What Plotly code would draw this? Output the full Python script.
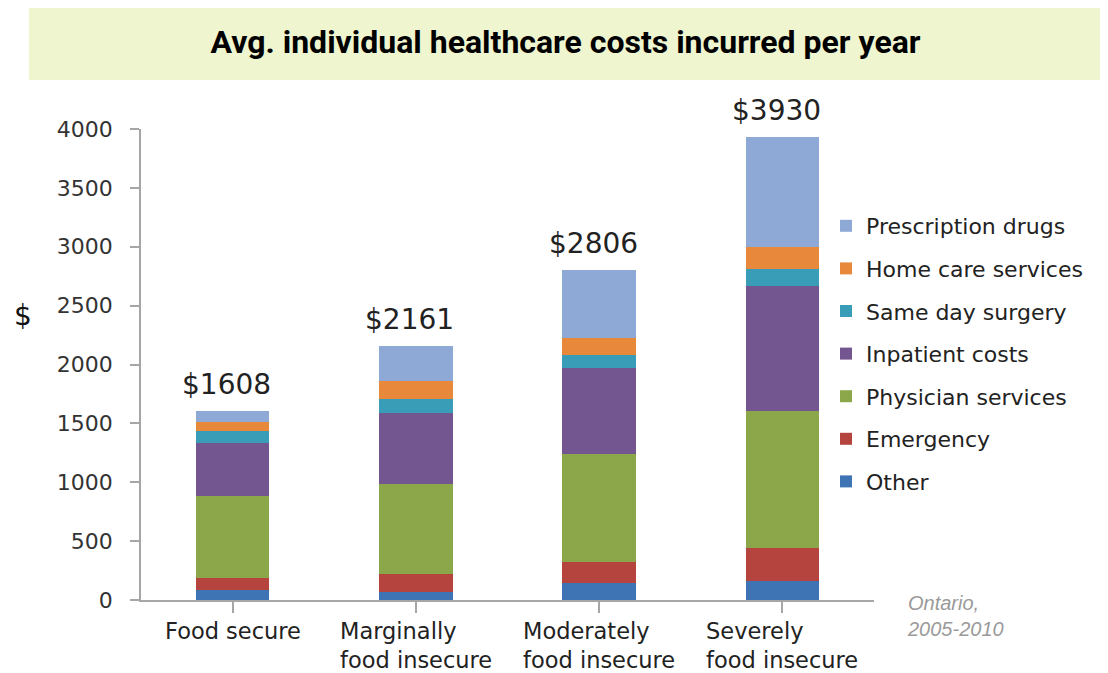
import plotly.graph_objects as go

categories = ["Food secure", "Marginally<br>food insecure", "Moderately<br>food insecure", "Severely<br>food insecure"]
totals = [1608, 2161, 2806, 3930]

# stacked components, bottom to top
other = [85, 68, 142, 161]
emergency = [99, 150, 184, 283]
physician = [696, 764, 914, 1161]
inpatient = [456, 603, 728, 1064]
same_day = [102, 122, 113, 142]
home_care = [71, 153, 141, 184]
prescription = [99, 301, 584, 935]

series = [
    ("Other", other, "#3E74B3"),
    ("Emergency", emergency, "#B5443F"),
    ("Physician services", physician, "#8CA74A"),
    ("Inpatient costs", inpatient, "#73568F"),
    ("Same day surgery", same_day, "#3A9DB8"),
    ("Home care services", home_care, "#E8883A"),
    ("Prescription drugs", prescription, "#8FA9D6"),
]

# page body has an 8px margin; size the figure so it fits the window
OFF = 8
W, H = 1108 - OFF, 673 - OFF
# plot area box in reference-window pixels
RL, RR, RT, RB = 141, 874, 129, 600
L, R, T, B = RL - OFF, RR - OFF, RT - OFF, RB - OFF


def px(xp):
    return (xp - RL) / (RR - RL)


def py(yp):
    return (RB - yp) / (RB - RT)


FONT = "DejaVu Sans"
xidx = list(range(len(categories)))

fig = go.Figure()
n = len(series)
for k, (name, vals, color) in enumerate(series):
    fig.add_trace(go.Bar(
        x=xidx, y=vals, name=name, legendgroup=name, legendrank=n - k,
        marker=dict(color=color, line=dict(width=0)),
        width=0.4, hoverinfo="name+y",
    ))

annotations = []
for i, t in enumerate(totals):
    annotations.append(dict(
        x=i, y=t, xref="x", yref="y", text=f"${t}", showarrow=False,
        yanchor="bottom", yshift=8, xshift=-6,
        font=dict(family=FONT, size=28, color="#222222"),
    ))
for i, c in enumerate(categories):
    annotations.append(dict(
        x=i, y=0, xref="x", yref="y", text=c, showarrow=False,
        yanchor="top", yshift=-16, align="left",
        font=dict(family=FONT, size=22.5, color="#222222"),
    ))
annotations.append(dict(
    x=px(23), y=py(315), xref="paper", yref="paper", text="$", showarrow=False,
    xanchor="center", yanchor="middle", font=dict(family=FONT, size=28, color="#111111"),
))
annotations.append(dict(
    x=px(905), y=py(616), xref="paper", yref="paper",
    text="<i>Ontario,<br>2005-2010</i>", showarrow=False, align="left",
    xanchor="left", yanchor="middle", font=dict(family="Liberation Sans", size=20, color="#9A9A9A"),
))

fig.update_layout(
    width=W, height=H,
    margin=dict(l=L, r=W - R, t=T, b=H - B, pad=0),
    paper_bgcolor="white", plot_bgcolor="white",
    barmode="stack",
    title=dict(
        text="<b>Avg. individual healthcare costs incurred per year</b>",
        x=(565.5 - OFF) / W, xanchor="center", y=1 - (42 - OFF) / H, yanchor="middle",
        font=dict(family="Roboto", size=32, color="#000000"),
    ),
    shapes=[dict(
        type="rect", xref="paper", yref="paper",
        x0=px(29), x1=px(1102), y0=py(80), y1=py(2),
        fillcolor="#EEF5CF", line=dict(width=0), layer="below",
    )],
    legend=dict(
        x=px(826), y=py(205), xanchor="left", yanchor="top",
        traceorder="grouped", tracegroupgap=11,
        font=dict(family=FONT, size=22, color="#222222"),
        bgcolor="rgba(0,0,0,0)", itemclick=False,
    ),
    annotations=annotations,
    showlegend=True,
)
fig.update_xaxes(
    range=[-0.5, 3.5], tickmode="array", tickvals=xidx, showticklabels=False,
    showline=True, linecolor="#A6A6A6", linewidth=1.5,
    ticks="outside", ticklen=11, tickcolor="#A6A6A6", tickwidth=1.5,
    tickson="boundaries", showgrid=False, zeroline=False, fixedrange=True,
)
fig.update_yaxes(
    range=[0, 4000], tickmode="array", tickvals=[0, 500, 1000, 1500, 2000, 2500, 3000, 3500, 4000],
    showline=True, linecolor="#A6A6A6", linewidth=1.5,
    ticks="outside", ticklen=9, tickcolor="#A6A6A6", tickwidth=1.5,
    ticklabelstandoff=13,
    tickfont=dict(family=FONT, size=22, color="#333333"),
    showgrid=False, zeroline=False, fixedrange=True,
)

fig.write_html("out.html")
